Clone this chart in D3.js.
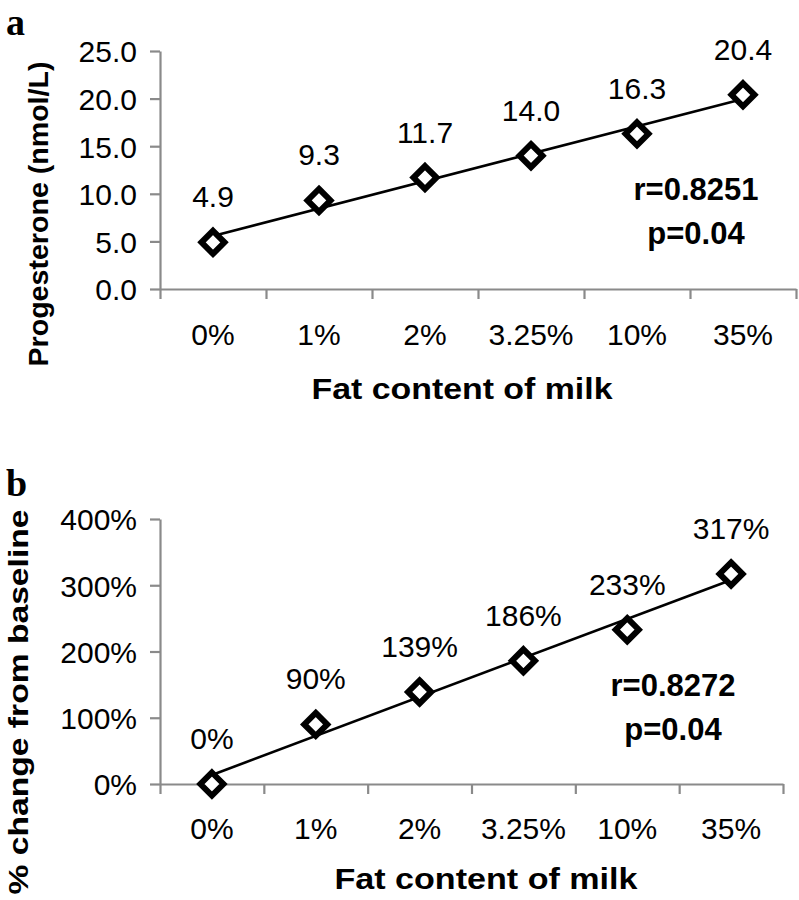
<!DOCTYPE html>
<html>
<head>
<meta charset="utf-8">
<script src="https://cdn.jsdelivr.net/npm/d3@7"></script>
<style>
	body { margin: 0; background: #fff; }
	svg text { font-family: "Liberation Sans", Arial, Helvetica, sans-serif; fill: #000; }
</style>
</head>
<body>
<script>
var categories = ['0%', '1%', '2%', '3.25%', '10%', '35%'],
	progesterone = [4.9, 9.3, 11.7, 14.0, 16.3, 20.4],
	progesteroneLabels = ['4.9', '9.3', '11.7', '14.0', '16.3', '20.4'],
	pctChange = [0, 90, 139, 186, 233, 317],
	pctChangeLabels = ['0%', '90%', '139%', '186%', '233%', '317%'],
	progesteroneTicks = [0, 5, 10, 15, 20, 25],
	pctChangeTicks = [0, 100, 200, 300, 400],
	statsA = ['r=0.8251', 'p=0.04'],
	statsB = ['r=0.8272', 'p=0.04'];

var width = 799,
	height = 900,
	axisColor = '#8a8a8a';

var svg = d3.select('body').append('svg')
	.attr('width', width)
	.attr('height', height);

// least squares fit on category index, like the excel trendline
function fitLine(values) {
	var n = values.length,
		mx = (n - 1) / 2,
		my = d3.mean(values),
		sxy = 0, sxx = 0;
	values.forEach(function(v, i) {
		sxy += (i - mx) * (v - my);
		sxx += (i - mx) * (i - mx);
	});
	var slope = sxy / sxx;
	return [[0, my - slope * mx], [n - 1, my + slope * (n - 1 - mx)]];
}

function drawPanel(cfg) {
	var g = svg.append('g');
	var x = d3.scaleBand().domain(cfg.categories).range(cfg.xRange).padding(0),
		y = d3.scaleLinear().domain(cfg.yDomain).range(cfg.yRange),
		xi = d3.scaleLinear().domain([0, cfg.categories.length]).range(cfg.xRange);

	// y axis
	var yAxis = g.append('g')
		.attr('transform', 'translate(' + cfg.xRange[0] + ',0)')
		.call(d3.axisLeft(y).tickValues(cfg.yTicks).tickFormat(cfg.yFormat)
			.tickSize(10).tickSizeOuter(0));
	// x axis, ticks on band edges
	var xAxis = g.append('g')
		.attr('transform', 'translate(0,' + cfg.yRange[0] + ')')
		.call(d3.axisBottom(xi).tickValues(d3.range(cfg.categories.length + 1))
			.tickFormat('').tickSize(10).tickSizeOuter(0));
	[yAxis, xAxis].forEach(function(a) {
		a.selectAll('path, line').attr('stroke', axisColor).attr('stroke-width', 2.2);
		a.selectAll('text').remove();
	});
	yAxis.selectAll('.tick').append('text')
		.attr('x', -23)
		.attr('dy', '0.36em')
		.attr('text-anchor', 'end')
		.style('font-size', '30px')
		.text(cfg.yFormat);

	g.selectAll('.cat')
		.data(cfg.categories)
		.enter().append('text')
		.attr('class', 'cat')
		.attr('x', function(d) { return x(d) + x.bandwidth() / 2; })
		.attr('y', cfg.catBaseline)
		.attr('text-anchor', 'middle')
		.style('font-size', '30px')
		.text(function(d) { return d; });

	// trendline
	var fit = fitLine(cfg.values);
	g.append('line')
		.attr('x1', x(cfg.categories[fit[0][0]]) + x.bandwidth() / 2)
		.attr('y1', y(fit[0][1]))
		.attr('x2', x(cfg.categories[fit[1][0]]) + x.bandwidth() / 2)
		.attr('y2', y(fit[1][1]))
		.attr('stroke', '#000')
		.attr('stroke-width', 2.6);

	// diamond markers
	var diamond = 'M0,-11.5L11.5,0L0,11.5L-11.5,0Z';
	g.selectAll('.pt')
		.data(cfg.values)
		.enter().append('path')
		.attr('class', 'pt')
		.attr('d', diamond)
		.attr('transform', function(d, i) {
			return 'translate(' + (x(cfg.categories[i]) + x.bandwidth() / 2) + ',' + y(d) + ')';
		})
		.attr('fill', '#fff')
		.attr('stroke', '#000')
		.attr('stroke-width', 6)
		.attr('stroke-linejoin', 'miter');

	g.selectAll('.lbl')
		.data(cfg.values)
		.enter().append('text')
		.attr('class', 'lbl')
		.attr('x', function(d, i) { return x(cfg.categories[i]) + x.bandwidth() / 2; })
		.attr('y', function(d) { return y(d) - 35; })
		.attr('text-anchor', 'middle')
		.style('font-size', '30px')
		.text(function(d, i) { return cfg.labels[i]; });

	g.selectAll('.stat')
		.data(cfg.stats)
		.enter().append('text')
		.attr('class', 'stat')
		.attr('x', cfg.statX)
		.attr('y', function(d, i) { return cfg.statY + i * 44; })
		.attr('text-anchor', 'middle')
		.style('font-size', '31px')
		.style('font-weight', 'bold')
		.text(function(d) { return d; });

	g.append('text')
		.attr('x', cfg.xTitle[0])
		.attr('y', cfg.xTitle[1])
		.attr('text-anchor', 'middle')
		.attr('textLength', cfg.xTitle[2])
		.attr('lengthAdjust', 'spacingAndGlyphs')
		.style('font-size', '29px')
		.style('font-weight', 'bold')
		.text('Fat content of milk');

	g.append('text')
		.attr('transform', 'translate(' + cfg.yTitle[0] + ',' + cfg.yTitle[1] + ') rotate(-90)')
		.attr('text-anchor', 'middle')
		.attr('textLength', cfg.yTitle[2])
		.attr('lengthAdjust', 'spacingAndGlyphs')
		.style('font-size', '28px')
		.style('font-weight', 'bold')
		.text(cfg.yLabel);

	g.append('text')
		.attr('x', 6)
		.attr('y', cfg.letterY)
		.style('font-family', '"Liberation Serif", "Times New Roman", serif')
		.style('font-size', '38px')
		.style('font-weight', 'bold')
		.text(cfg.letter);
}

drawPanel({
	categories: categories,
	values: progesterone,
	labels: progesteroneLabels,
	yDomain: [0, 25],
	yTicks: progesteroneTicks,
	yFormat: d3.format('.1f'),
	xRange: [160, 796],
	yRange: [289, 51],
	catBaseline: 345,
	stats: statsA,
	statX: 696,
	statY: 200,
	xTitle: [462, 399, 301],
	yTitle: [48, 214, 305],
	yLabel: 'Progesterone (nmol/L)',
	letter: 'a',
	letterY: 35
});

drawPanel({
	categories: categories,
	values: pctChange,
	labels: pctChangeLabels,
	yDomain: [0, 400],
	yTicks: pctChangeTicks,
	yFormat: function(d) { return d + '%'; },
	xRange: [160, 783],
	yRange: [784, 519],
	catBaseline: 839,
	stats: statsB,
	statX: 673,
	statY: 696,
	xTitle: [486, 889, 303],
	yTitle: [28, 702, 385],
	yLabel: '% change from baseline',
	letter: 'b',
	letterY: 496
});
</script>
</body>
</html>
